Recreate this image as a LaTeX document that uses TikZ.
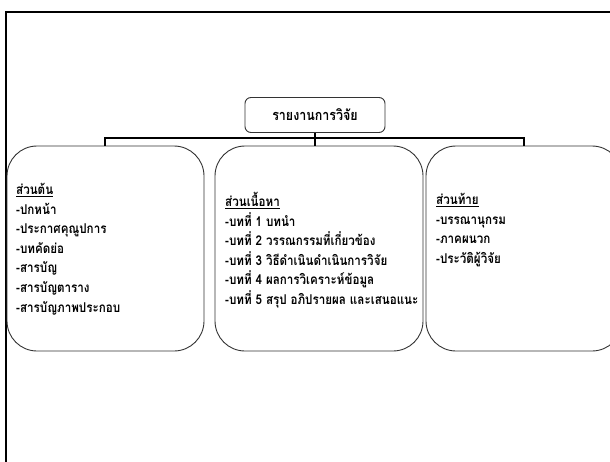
\documentclass[tikz,border=0pt]{standalone}
\usepackage{fontspec}
\newfontfamily\thaifont[Script=Thai,FakeStretch=0.86]{Loma}
\tikzset{
  box/.style={draw=black!80, line width=0.9pt, rounded corners=30pt, inner sep=0pt},
  titlebox/.style={draw=black!80, line width=0.9pt, rounded corners=6pt, minimum width=140pt, minimum height=35pt, inner sep=0pt, font=\thaifont\bfseries\fontsize{14.5}{16}\selectfont},
  conn/.style={draw=black, line width=1.8pt},
  body/.style={anchor=north west, align=left, inner sep=0pt, font=\thaifont\bfseries\fontsize{13.5}{19.6}\selectfont}
}
\begin{document}
\begin{tikzpicture}[x=1pt, y=-1pt]
\useasboundingbox (0,0) rectangle (610,461);
\clip (0,0) rectangle (610,461);
\draw[line width=2pt] (6,470) -- (6,12) -- (620,12);
\node[titlebox] (title) at (315,115) {รายงานการวิจัย};
\node[box, minimum width=197pt, minimum height=205pt] (left) at (105.5,248.5) {};
\node[box, minimum width=208pt, minimum height=205pt] (mid) at (319,248.5) {};
\node[box, minimum width=196pt, minimum height=205pt] (right) at (524,248.5) {};
\coordinate (bar) at (315,138);
\draw[conn] (title.south) -- (bar);
\draw[conn] (bar) -- (bar |- mid.north);
\draw[conn] (105,146) -- (105,138) -- (524,138) -- (524,146);
\node[body] (ltext) at (16,183) {\underline{ส่วนต้น}\\-ปกหน้า\\-ประกาศคุณูปการ\\-บทคัดย่อ\\-สารบัญ\\-สารบัญตาราง\\-สารบัญภาพประกอบ};
\node[body] (mtext) at (225,192) {\underline{ส่วนเนื้อหา}\\-บทที่ 1 บทนำ\\-บทที่ 2 วรรณกรรมที่เกี่ยวข้อง\\-บทที่ 3 วิธีดำเนินดำเนินการวิจัย\\-บทที่ 4 ผลการวิเคราะห์ข้อมูล\\-บทที่ 5 สรุป อภิปรายผล และเสนอแนะ};
\node[body] (rtext) at (436,193) {\underline{ส่วนท้าย}\\-บรรณานุกรม\\-ภาคผนวก\\-ประวัติผู้วิจัย};
\end{tikzpicture}
\end{document}
